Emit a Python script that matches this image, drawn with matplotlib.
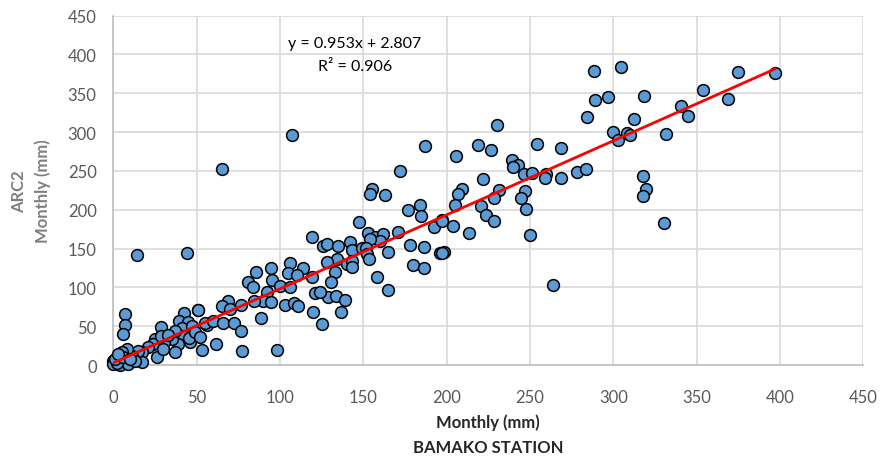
import matplotlib
matplotlib.use("Agg")
import matplotlib.pyplot as plt

plt.rcParams['font.family'] = ['Lato', 'DejaVu Sans']

# station (x) vs ARC2 (y) monthly rainfall, mm
station = [
    7.0, 7.0, 6.0, 28.6, 42.6, 50.6, 39.4, 45.0, 41.4, 47.4, 42.0, 46.0, 39.0, 35.0,
    30.6, 37.0, 25.0, 24.0, 21.0, 26.0, 30.0, 17.4, 17.4, 14.6, 11.0, 8.0, 7.0, 3.0,
    0.0, 0.0, 4.0, 9.0, 5.0, 13.0, 37.0, 2.0, 1.0, 6.0, 10.0, 3.0,
    56.4, 28.4, 33.0, 45.6,
    14.0, 44.4, 65.4, 107.0,
    119.0, 126.0, 85.6, 94.6, 106.0, 114.0, 81.0, 84.0, 95.4, 104.6, 110.0, 119.0,
    100.0, 92.0, 106.0, 90.0, 94.6, 69.0, 65.0, 70.0, 76.4, 84.6, 103.0, 108.4,
    111.0, 121.0, 119.6, 125.4, 88.6, 51.0, 55.0, 60.0, 66.0, 72.6, 76.6, 49.0,
    52.0, 61.4, 53.0, 77.0, 98.0, 136.4,
    172.0, 155.0, 154.0, 163.0, 176.6, 184.0, 184.6, 147.6, 170.6, 192.6, 197.0,
    153.0, 157.0, 162.0, 160.0, 154.0, 142.0, 128.0, 135.0, 143.0, 149.0, 151.6,
    152.0, 153.6, 165.0, 178.0, 186.4, 196.0, 198.4, 134.0, 128.4, 140.0, 143.0,
    143.0, 133.0, 180.0, 186.6, 130.4, 158.4, 165.0, 129.0, 133.6, 139.0, 124.0,
    187.2,
    230.4, 219.0, 226.6, 254.5, 268.6, 205.5, 239.0, 242.6, 240.0, 246.4, 251.0,
    259.6, 259.0, 268.6, 278.0, 283.4, 221.6, 209.0, 207.0, 205.0, 231.6, 228.6,
    247.0, 244.4, 247.4, 220.8, 223.8, 228.4, 203.8, 213.2, 250.0, 197.0, 197.0,
    263.6,
    288.4, 304.4, 289.0, 296.6, 318.6, 284.4, 312.6, 299.6, 302.6, 308.0, 310.0,
    318.0, 319.5, 318.0, 330.6, 331.4, 340.6, 345.0, 353.6, 369.0, 375.0, 397.0,
]
arc2 = [
    65.7, 51.9, 39.9, 48.5, 67.0, 71.2, 56.3, 55.0, 47.3, 49.8, 37.7, 30.0, 27.0, 33.5,
    29.2, 16.4, 33.5, 27.0, 22.8, 9.9, 20.6, 16.4, 4.2, 18.4, 12.0, 20.6, 5.5, 9.9,
    5.5, 1.3, 0.0, 1.3, 16.4, 5.5, 44.2, 3.0, 8.0, 10.0, 8.0, 14.0,
    51.5, 37.0, 38.6, 34.4,
    141.6, 143.8, 253.0, 296.7,
    164.4, 153.6, 119.4, 124.5, 131.0, 124.5, 106.5, 100.8, 109.4, 118.0, 116.3, 113.0,
    102.0, 93.6, 100.0, 82.8, 80.7, 82.8, 76.3, 72.0, 77.6, 82.0, 77.6, 79.8,
    76.3, 92.7, 67.9, 52.8, 60.5, 70.8, 53.7, 57.0, 53.7, 53.7, 44.2, 42.0,
    35.7, 27.0, 19.3, 18.4, 19.3, 67.9,
    250.0, 226.6, 220.0, 219.3, 199.6, 206.0, 192.2, 184.5, 170.9, 177.3, 187.0,
    170.0, 164.4, 168.7, 160.0, 162.2, 158.7, 155.8, 153.6, 148.0, 150.2, 150.6,
    143.0, 136.5, 145.9, 154.5, 151.5, 144.2, 145.9, 136.5, 132.2, 130.0, 134.3,
    125.8, 120.0, 128.8, 124.5, 106.5, 113.0, 97.0, 87.2, 89.2, 84.0, 93.6,
    281.6,
    308.5, 283.8, 277.0, 284.0, 279.0, 268.6, 263.7, 257.0, 255.0, 246.5, 247.5,
    246.5, 241.0, 241.0, 248.7, 252.0, 239.0, 226.5, 220.0, 206.5, 225.2, 214.5,
    224.7, 214.5, 200.8, 204.6, 192.6, 185.0, 179.0, 169.8, 166.8, 185.8, 144.2,
    103.6,
    378.8, 384.0, 341.0, 345.0, 346.0, 318.7, 317.4, 300.4, 289.6, 299.0, 296.0,
    243.6, 226.5, 217.5, 182.4, 298.0, 333.7, 320.8, 353.8, 342.0, 377.0, 376.6,
]

slope, intercept, r2 = 0.953, 2.807, 0.906
ticks = list(range(0, 451, 50))

fig = plt.figure(figsize=(8.88, 4.60), dpi=100)
ax = fig.add_axes([0.1276, 0.2043, 0.8446, 0.7598])

ax.scatter(station, arc2, s=72, c='#5B9BD5', edgecolors='black', linewidths=1.1,
           zorder=3, clip_on=False)

x0, x1 = min(station), max(station)
ax.plot([x0, x1], [slope * x0 + intercept, slope * x1 + intercept],
        color='#FF0000', lw=2, zorder=4)

ax.text(145, 414, f"y = {slope}x + {intercept}", ha='center', va='center', fontsize=11.5)
ax.text(145, 385, f"R² = {r2}", ha='center', va='center', fontsize=11.5)

ax.set_xlim(0, 450)
ax.set_ylim(0, 450)
ax.set_xticks(ticks)
ax.set_yticks(ticks)
ax.grid(True, color='#D9D9D9', lw=1.2, zorder=0)
ax.set_axisbelow(True)
for s in ['top', 'right']:
    ax.spines[s].set_visible(False)
for s in ['left', 'bottom']:
    ax.spines[s].set_color('#BFBFBF')
    ax.spines[s].set_linewidth(1.2)
ax.tick_params(length=0, labelsize=12, colors='#595959')
ax.tick_params(axis='x', pad=17)
ax.tick_params(axis='y', pad=12)

ax.set_xlabel("Monthly (mm)\nBAMAKO STATION", fontsize=12, fontweight='bold',
              color='#262626', linespacing=1.75, labelpad=6)
ax.set_ylabel("ARC2\nMonthly (mm)", fontsize=12, fontweight='bold',
              color='#7F7F7F', linespacing=1.55, labelpad=12)

fig.savefig("out.png", dpi=100)
